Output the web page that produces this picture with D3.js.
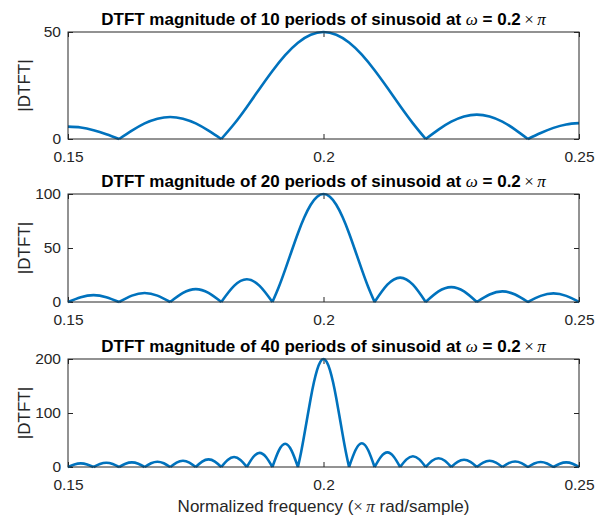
<!DOCTYPE html>
<html>
<head>
<meta charset="utf-8">
<script src="https://cdn.jsdelivr.net/npm/d3@7"></script>
<style>
  body { margin: 0; background: #fff; }
  text { font-family: "Liberation Sans", Arial, Helvetica, sans-serif; }
</style>
</head>
<body>
<div id="chart"></div>
<script>
// values
const xTicks = [0.15, 0.2, 0.25];
const nPeriods = [10, 20, 40];
const yTicks = [[0, 50], [0, 50, 100], [0, 100, 200]];
const yMax = [50, 100, 200];

const freq1 = [0.15, 0.1525, 0.155, 0.1575, 0.16, 0.1625, 0.165, 0.1675, 0.17, 0.1725, 0.175, 0.1775, 0.18,
  0.1825, 0.185, 0.1875, 0.19, 0.1925, 0.195, 0.1975, 0.2, 0.2025, 0.205, 0.2075, 0.21, 0.2125, 0.215, 0.2175, 0.22,
  0.2225, 0.225, 0.2275, 0.23, 0.2325, 0.235, 0.2375, 0.24, 0.2425, 0.245, 0.2475, 0.25];
const mag1 = [5.8, 5.4, 4.1, 2.2, 0, 3.9, 7.3, 9.5, 10.3, 9.5, 7.3, 3.9, 0,
  7.0, 15.0, 23.5, 31.8, 39.2, 45.0, 48.7, 50, 48.7, 45.1, 39.4, 32.1, 23.9, 15.4, 7.3, 0,
  4.4, 8.1, 10.5, 11.4, 10.5, 8.1, 4.4, 0, 2.8, 5.2, 6.8, 7.4];

const freq2 = [0.15, 0.1525, 0.155, 0.1575, 0.16, 0.1625, 0.165, 0.1675, 0.17, 0.1725, 0.175, 0.1775, 0.18,
  0.1825, 0.185, 0.1875, 0.19,
  0.19125, 0.1925, 0.19375, 0.195, 0.19625, 0.1975, 0.19875, 0.2, 0.20125, 0.2025, 0.20375, 0.205, 0.20625,
  0.2075, 0.20875, 0.21,
  0.2125, 0.215, 0.2175, 0.22, 0.2225, 0.225, 0.2275, 0.23, 0.2325, 0.235, 0.2375, 0.24, 0.2425, 0.245, 0.2475, 0.25];
const mag2 = [0, 4.5, 6.4, 4.5, 0, 5.9, 8.3, 5.9, 0, 8.4, 11.9, 8.4, 0, 14.9, 21, 14.9, 0,
  13.9, 30.0, 47.0, 63.7, 78.4, 90.0, 97.4, 100, 97.4, 90.0, 78.4, 63.7, 47.0, 30.0, 13.9, 0,
  16.0, 22.6, 16.0, 0, 9.8, 13.8, 9.8, 0, 6.9, 9.8, 6.9, 0, 5.7, 8.0, 5.7, 0];

const freq3 = [0.15, 0.15125, 0.1525, 0.15375, 0.155, 0.15625, 0.1575, 0.15875, 0.16, 0.16125, 0.1625, 0.16375,
  0.165, 0.16625, 0.1675, 0.16875, 0.17, 0.17125, 0.1725, 0.17375, 0.175, 0.17625, 0.1775, 0.17875, 0.18, 0.18125,
  0.1825, 0.18375, 0.185, 0.18625, 0.1875, 0.18875, 0.19, 0.19125, 0.1925, 0.19375, 0.195,
  0.195625, 0.19625, 0.196875, 0.1975, 0.198125, 0.19875, 0.199375, 0.2, 0.200625, 0.20125, 0.201875, 0.2025,
  0.203125, 0.20375, 0.204375, 0.205,
  0.20625, 0.2075, 0.20875, 0.21, 0.21125, 0.2125, 0.21375, 0.215, 0.21625, 0.2175, 0.21875, 0.22, 0.22125,
  0.2225, 0.22375, 0.225, 0.22625, 0.2275, 0.22875, 0.23, 0.23125, 0.2325, 0.23375, 0.235, 0.23625, 0.2375,
  0.23875, 0.24, 0.24125, 0.2425, 0.24375, 0.245, 0.24625, 0.2475, 0.24875, 0.25];
const mag3 = [0, 4.8, 6.8, 4.8, 0, 5.5, 7.8, 5.5, 0, 6.1, 8.6, 6.1, 0, 6.9, 9.8, 6.9, 0, 8.2, 11.6, 8.2,
  0, 10.0, 14.1, 10.0, 0, 13.0, 18.4, 13.0, 0, 18.5, 26.2, 18.5, 0, 30.4, 43, 30.4, 0,
  27.8, 60, 94, 127.3, 156.8, 180, 194.8, 200, 194.8, 180, 156.8, 127.3, 94, 60, 27.8, 0,
  31.1, 44, 31.1, 0, 19.1, 27, 19.1, 0, 14.1, 20, 14.1, 0, 11.5, 16.2, 11.5, 0, 9.4, 13.3, 9.4, 0,
  8.1, 11.5, 8.1, 0, 7.2, 10.2, 7.2, 0, 6.5, 9.2, 6.5, 0, 6.0, 8.5, 6.0, 0];

const freqs = [freq1, freq2, freq3];
const mags = [mag1, mag2, mag3];

const width = 597;
const height = 515;
const left = 68, right = 579;
const panels = [[32, 139], [194, 302], [359, 467]]; // top, bottom of each axes
const axisColor = "#262626";
const lineColor = "#0072BD";
const tickLen = 5;
const serif = "'Liberation Serif', 'DejaVu Serif', serif";

const svg = d3.select("#chart")
  .append("svg")
  .attr("width", width)
  .attr("height", height);

const x = d3.scaleLinear().domain([0.15, 0.25]).range([left, right]);

panels.forEach(([top, bottom], k) => {
  const y = d3.scaleLinear().domain([0, yMax[k]]).range([bottom, top]);
  const g = svg.append("g");

  // axes, ticks pointing inward, mirrored on top/right
  g.append("g")
    .attr("transform", `translate(0,${bottom})`)
    .call(d3.axisBottom(x).tickValues(xTicks).tickSize(-tickLen).tickPadding(12)
      .tickFormat(d3.format("")));
  g.append("g")
    .attr("transform", `translate(0,${top})`)
    .call(d3.axisTop(x).tickValues(xTicks).tickSize(-tickLen).tickFormat(""));
  g.append("g")
    .attr("transform", `translate(${left},0)`)
    .call(d3.axisLeft(y).tickValues(yTicks[k]).tickSize(-tickLen).tickPadding(7));
  g.append("g")
    .attr("transform", `translate(${right},0)`)
    .call(d3.axisRight(y).tickValues(yTicks[k]).tickSize(-tickLen).tickFormat(""));

  g.selectAll(".domain").remove();
  g.selectAll(".tick line").attr("stroke", axisColor);
  g.selectAll(".tick text")
    .attr("fill", axisColor)
    .style("font-size", "15.5px")
    .style("font-family", "'Liberation Sans', Arial, sans-serif");

  // the curve, split into lobes at its zeros so the cusps stay sharp
  const pts = freqs[k].map((f, i) => [f, mags[k][i]]);
  const lobes = [];
  let cur = [];
  pts.forEach((p, i) => {
    cur.push(p);
    if (p[1] === 0 && i > 0 && i < pts.length - 1) {
      lobes.push(cur);
      cur = [p];
    }
  });
  if (cur.length > 1) lobes.push(cur);

  const line = d3.line()
    .x(d => x(d[0]))
    .y(d => y(d[1]))
    .curve(d3.curveNatural);

  g.append("path")
    .attr("d", lobes.map(l => line(l)).join(""))
    .attr("fill", "none")
    .attr("stroke", lineColor)
    .attr("stroke-width", 2.6)
    .attr("stroke-linejoin", "round");

  // axes box
  g.append("rect")
    .attr("x", left)
    .attr("y", top)
    .attr("width", right - left)
    .attr("height", bottom - top)
    .attr("fill", "none")
    .attr("stroke", axisColor)
    .attr("stroke-width", 1);

  // title with TeX-like symbols
  const title = g.append("text")
    .attr("x", (left + right) / 2)
    .attr("y", top - 7)
    .attr("text-anchor", "middle")
    .style("font-size", "17px")
    .style("font-weight", "bold")
    .attr("fill", "#000");
  title.append("tspan").text(`DTFT magnitude of ${nPeriods[k]} periods of sinusoid at `);
  title.append("tspan").text("ω")
    .style("font-family", serif)
    .style("font-style", "italic").style("font-weight", "normal");
  title.append("tspan").text(" = 0.2");
  title.append("tspan").text("\u2009×\u2009")
    .style("font-family", serif)
    .style("font-weight", "normal");
  title.append("tspan").text("π")
    .style("font-family", serif)
    .style("font-style", "italic").style("font-weight", "normal");

  // y label
  g.append("text")
    .attr("transform", `translate(30,${(top + bottom) / 2}) rotate(-90)`)
    .attr("text-anchor", "middle")
    .style("font-size", "17px")
    .attr("fill", axisColor)
    .text("|DTFT|");
});

// x label
const xl = svg.append("text")
  .attr("x", (left + right) / 2)
  .attr("y", 512)
  .attr("text-anchor", "middle")
  .style("font-size", "17px")
  .attr("fill", axisColor);
xl.append("tspan").text("Normalized frequency (");
xl.append("tspan").text("×\u2009")
  .style("font-family", serif);
xl.append("tspan").text("π")
  .style("font-family", serif)
  .style("font-style", "italic");
xl.append("tspan").text(" rad/sample)");
</script>
</body>
</html>
